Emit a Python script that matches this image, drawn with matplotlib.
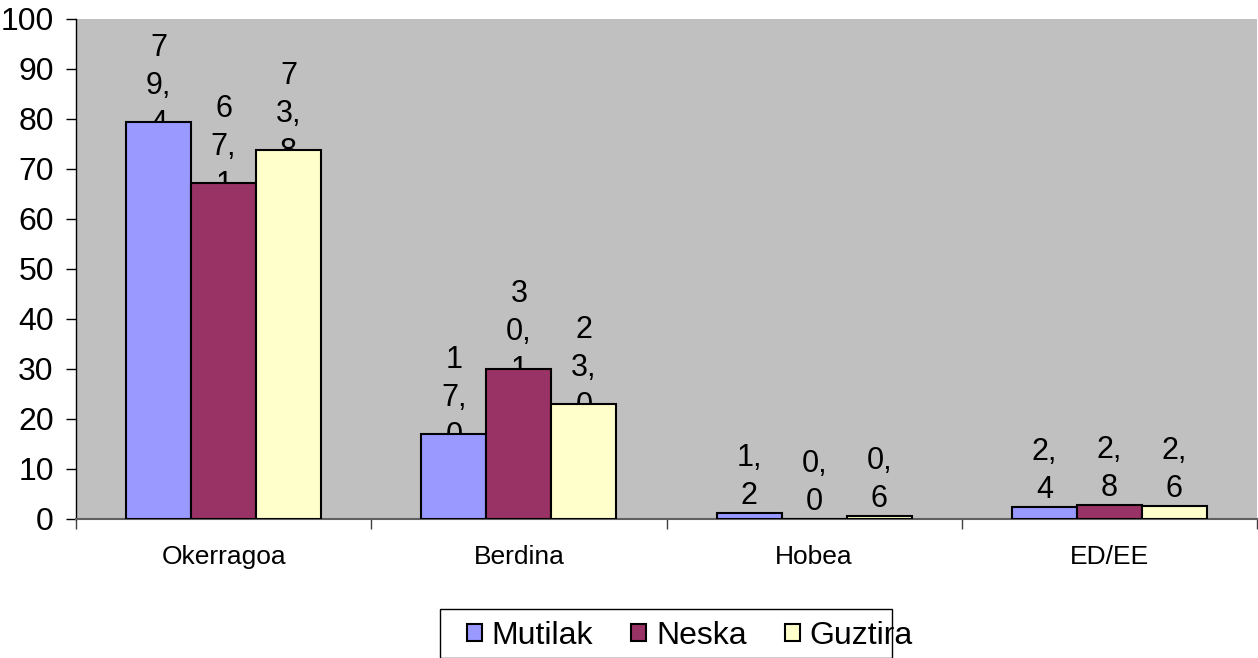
import matplotlib
matplotlib.use('Agg')
import matplotlib.pyplot as plt
from matplotlib.patches import Patch, Rectangle
import numpy as np

# Datuak
categories = ['Okerragoa', 'Berdina', 'Hobea', 'ED/EE']
series = ['Mutilak', 'Neska', 'Guztira']
mutilak = [79.4, 17.0, 1.2, 2.4]
neska = [67.1, 30.1, 0.0, 2.8]
guztira = [73.8, 23.0, 0.6, 2.6]
colors = ['#9999FF', '#993366', '#FFFFCC']

plt.rcParams['font.family'] = ['Liberation Sans', 'DejaVu Sans']


def wrap_label(v):
    # Excel-eko etiketa estuak: karaktere bat lerro bakoitzeko, koma aurrekoarekin
    s = f'{v:.1f}'.replace('.', ',')
    lines = []
    for ch in s:
        if ch == ',' and lines:
            lines[-1] += ch
        else:
            lines.append(ch)
    return '\n'.join(lines)


W, H = 1258, 658
fig = plt.figure(figsize=(W / 100, H / 100), dpi=100)
ax = fig.add_axes([76 / W, 1 - 519 / H, (1257 - 76) / W, (519 - 19) / H])
ax.set_facecolor('#C0C0C0')

x = np.arange(len(categories))
w = 0.22
for i, (vals, name) in enumerate(zip([mutilak, neska, guztira], series)):
    pos = x + (i - 1) * w
    ax.bar(pos, vals, w, color=colors[i], edgecolor='black', linewidth=1.5, zorder=3)
    for px, v in zip(pos, vals):
        ax.annotate(wrap_label(v), (px, v), xytext=(0, 26), textcoords='offset points',
                    ha='center', va='center', fontsize=22, linespacing=1.35,
                    zorder=2, annotation_clip=False)

ax.set_xlim(-0.5, 3.5)
ax.set_ylim(0, 100)
ax.set_yticks(np.arange(0, 101, 10))
ax.tick_params(axis='y', labelsize=23, length=7, width=1, direction='out', pad=9)

ax.set_xticks(np.arange(-0.5, 3.6, 1))
ax.set_xticklabels([])
ax.set_xticks(x, minor=True)
ax.set_xticklabels(categories, minor=True, fontsize=19)
ax.tick_params(axis='x', which='major', length=7, width=1, direction='out', color='#404040')
ax.tick_params(axis='x', which='minor', length=0, pad=19)

for s in ['top', 'right']:
    ax.spines[s].set_visible(False)
ax.spines['left'].set_color('black')
ax.spines['bottom'].set_color('#606060')
ax.spines['left'].set_linewidth(1)
ax.spines['bottom'].set_linewidth(1.5)

# Legendaren koadroa (Excel-en moduan, testua ertzetik irteten da)
fig.patches.append(Rectangle((440 / W, 0), (892 - 440) / W, 1 - 609 / H,
                             transform=fig.transFigure, facecolor='white',
                             edgecolor='black', linewidth=1, zorder=0))
handles = [Patch(facecolor=c, edgecolor='black', linewidth=1.5) for c in colors]
leg = fig.legend(handles, series, loc='center left', bbox_to_anchor=(467 / W, 1 - 636 / H),
                 ncol=3, frameon=False, fontsize=23,
                 handlelength=0.47, handleheight=0.47, handletextpad=0.3,
                 columnspacing=1.2, borderaxespad=0, borderpad=0)

fig.savefig('out.png', dpi=100, facecolor='white')
